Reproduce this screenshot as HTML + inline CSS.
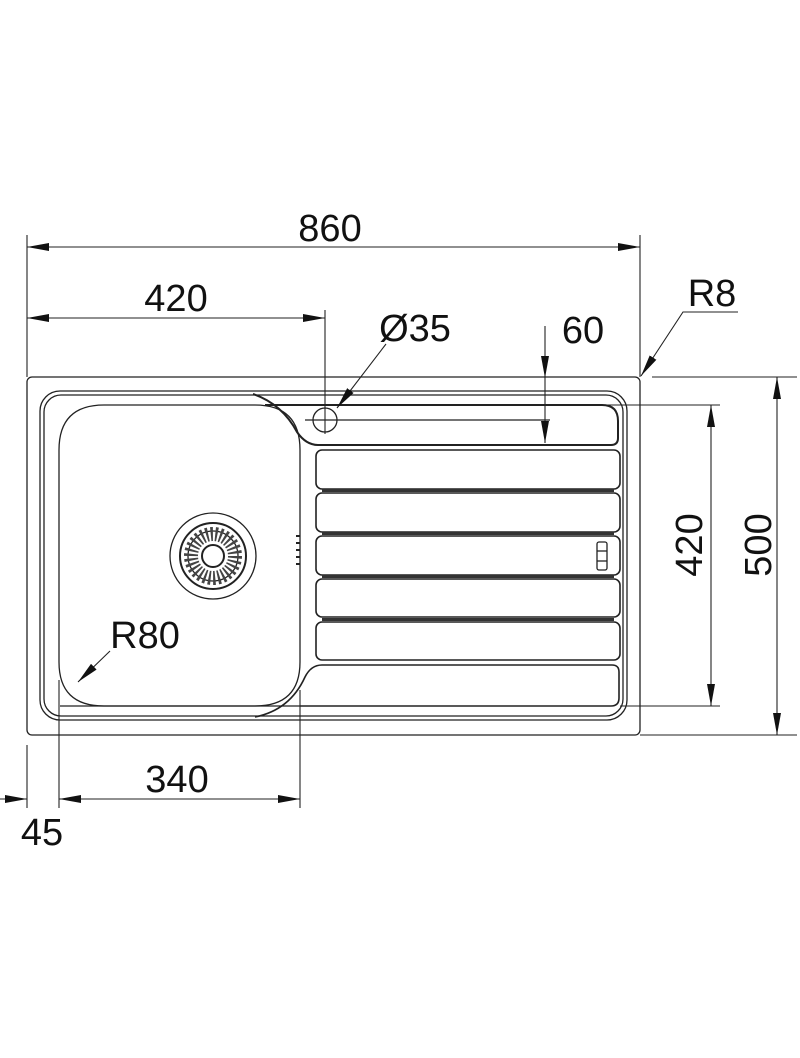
<!DOCTYPE html>
<html><head><meta charset="utf-8"><style>
html,body{margin:0;padding:0;background:#fff;}
svg{display:block;}
text{font-family:"Liberation Sans",Arial,sans-serif;font-size:38px;fill:#111;}
</style></head><body>
<svg width="800" height="1058" viewBox="0 0 800 1058" xmlns="http://www.w3.org/2000/svg">
<defs>
<marker id="a" viewBox="0 0 22 8" refX="22" refY="4" markerWidth="22" markerHeight="8" markerUnits="userSpaceOnUse" orient="auto-start-reverse"><path d="M0,0 L22,4 L0,8 Z" fill="#111"/></marker>
</defs>
<g fill="none" stroke="#222" stroke-width="1.3">
<rect x="27" y="377" width="613" height="358" rx="5"/>
<rect x="40" y="391" width="587" height="329" rx="20"/>
<rect x="44" y="395" width="579" height="321" rx="17"/>
<path d="M265,405 L602,405 Q618,405 618,421 L618,438 Q618,445 611,445 L318,445 Q306,445 297,432 Q282,404 253,394" stroke-width="2"/>
<path d="M255,717 Q290,710 305,677 Q311,665 322,665 L612,665 Q619,665 619,672 L619,698 Q619,706 611,706 L300,706" stroke-width="1.6"/>
<line x1="60" y1="706" x2="300" y2="706"/>
<path d="M104,405 L255,405 Q300,405 300,450 L300,662 Q300,706 255,706 L104,706 Q59,706 59,662 L59,450 Q59,405 104,405 Z"/>
<circle cx="213" cy="556" r="43"/>
<circle cx="213" cy="556" r="33" stroke-width="2"/>
<circle cx="213" cy="556" r="25"/>
<circle cx="213" cy="556" r="11" stroke-width="2"/>
<circle cx="213" cy="556" r="22" stroke-width="14" stroke-dasharray="2.2 2.4" stroke="#444"/>
<g stroke-width="2"><line x1="296" y1="536" x2="300" y2="536"/><line x1="296" y1="543" x2="300" y2="543"/><line x1="296" y1="550" x2="300" y2="550"/><line x1="296" y1="557" x2="300" y2="557"/><line x1="296" y1="564" x2="300" y2="564"/></g>
<g stroke-width="1.6">
<rect x="316" y="450" width="304" height="39" rx="6"/>
<rect x="316" y="493" width="304" height="39" rx="6"/>
<rect x="316" y="536" width="304" height="39" rx="6"/>
<rect x="316" y="579" width="304" height="38" rx="6"/>
<rect x="316" y="622" width="304" height="38" rx="6"/>
</g>
<g stroke="#333" stroke-width="3">
<line x1="322" y1="490.5" x2="614" y2="490.5"/>
<line x1="322" y1="533.5" x2="614" y2="533.5"/>
<line x1="322" y1="576.5" x2="614" y2="576.5"/>
<line x1="322" y1="619.5" x2="614" y2="619.5"/>
</g>
<rect x="597" y="542" width="10" height="28" rx="2"/>
<line x1="597" y1="551" x2="607" y2="551"/><line x1="597" y1="561" x2="607" y2="561"/>
<circle cx="325" cy="420" r="12"/>
<line x1="305" y1="420" x2="550" y2="420"/>
</g>
<g fill="none" stroke="#222" stroke-width="1.1">
<line x1="27" y1="235" x2="27" y2="377"/>
<line x1="640" y1="235" x2="640" y2="377"/>
<line x1="325" y1="310" x2="325" y2="434"/>
<line x1="652" y1="377" x2="797" y2="377"/>
<line x1="640" y1="735" x2="797" y2="735"/>
<line x1="545" y1="405" x2="720" y2="405"/>
<line x1="620" y1="706" x2="720" y2="706"/>
<line x1="27" y1="745" x2="27" y2="808"/>
<line x1="59" y1="680" x2="59" y2="808"/>
<line x1="300" y1="690" x2="300" y2="808"/>
<line x1="27" y1="247" x2="640" y2="247" marker-start="url(#a)" marker-end="url(#a)"/>
<line x1="27" y1="318" x2="325" y2="318" marker-start="url(#a)" marker-end="url(#a)"/>
<line x1="59" y1="799" x2="300" y2="799" marker-start="url(#a)" marker-end="url(#a)"/>
<line x1="0" y1="799" x2="27" y2="799" marker-end="url(#a)"/>
<line x1="711" y1="405" x2="711" y2="706" marker-start="url(#a)" marker-end="url(#a)"/>
<line x1="777" y1="377" x2="777" y2="735" marker-start="url(#a)" marker-end="url(#a)"/>
<line x1="545" y1="326" x2="545" y2="378" marker-end="url(#a)"/>
<line x1="545" y1="378" x2="545" y2="443"/>
<line x1="386" y1="344" x2="337" y2="408" marker-end="url(#a)"/>
<path d="M738,312 L683,312 L641,376" marker-end="url(#a)"/>
<line x1="110" y1="651" x2="78" y2="682" marker-end="url(#a)"/>
</g>
<path d="M545,443 L541,421 L549,421 Z" fill="#111"/>
<text x="330" y="241" text-anchor="middle">860</text>
<text x="176" y="311" text-anchor="middle">420</text>
<text x="415" y="341" text-anchor="middle">Ø35</text>
<text x="583" y="343" text-anchor="middle">60</text>
<text x="712" y="306" text-anchor="middle">R8</text>
<text x="145" y="648" text-anchor="middle">R80</text>
<text x="177" y="792" text-anchor="middle">340</text>
<text x="42" y="845" text-anchor="middle">45</text>
<text transform="translate(702,545) rotate(-90)" text-anchor="middle">420</text>
<text transform="translate(771,545) rotate(-90)" text-anchor="middle">500</text>
</svg>
</body></html>
